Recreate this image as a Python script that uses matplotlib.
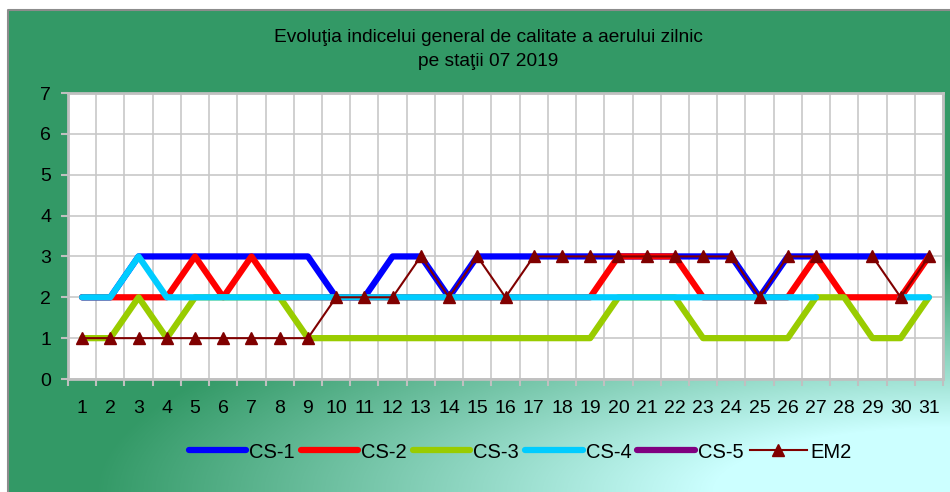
import numpy as np
import matplotlib
matplotlib.use("Agg")
from matplotlib import pyplot as plt

plt.rcParams['font.family'] = ['Liberation Sans', 'DejaVu Sans']

nan = np.nan
days = list(range(1, 32))
cs1 = [2, 2, 3, 3, 3, 3, 3, 3, 3, 2, 2, 3, 3, 2, 3, 3, 3, 3, 3, 3, 3, 3, 3, 3, 2, 3, 3, 3, 3, 3, 3]
cs2 = [2, 2, 2, 2, 3, 2, 3, 2, 2, 2, 2, 2, 2, 2, 2, 2, 2, 2, 2, 3, 3, 3, 2, 2, 2, 2, 3, 2, 2, 2, 3]
cs3 = [1, 1, 2, 1, 2, 2, 2, 2, 1, 1, 1, 1, 1, 1, 1, 1, 1, 1, 1, 2, 2, 2, 1, 1, 1, 1, 2, 2, 1, 1, 2]
cs4 = [2, 2, 3, 2, 2, 2, 2, 2, 2, 2, 2, 2, 2, 2, 2, 2, 2, 2, 2, 2, 2, 2, 2, 2, 2, 2, 2, nan, nan, 2, 2]
cs5 = [nan] * 31
em2 = [1, 1, 1, 1, 1, 1, 1, 1, 1, 2, 2, 2, 3, 2, 3, 2, 3, 3, 3, 3, 3, 3, 3, 3, 2, 3, 3, nan, 3, 2, 3]

names = ['CS-1', 'CS-2', 'CS-3', 'CS-4', 'CS-5']
colors = ['#0000FF', '#FF0000', '#99CC00', '#00CCFF', '#800080']
em2_color = '#800000'

W, H = 950, 492
fig = plt.figure(figsize=(W / 100, H / 100), dpi=100)
fig.patch.set_facecolor('white')

# gradient background of the chart area
bg = fig.add_axes([0, 0, 1, 1])
bg.set_xlim(0, W)
bg.set_ylim(H, 0)
bg.axis('off')
X, Y = np.meshgrid(np.arange(W) + 0.5, np.arange(H) + 0.5)
u, v = X / W, Y / H
f = np.sqrt((1.0 * (1 - u)) ** 2 + (1.9 * (1 - v)) ** 2)
t = np.clip((f - 0.25) / 0.65, 0, 1)
green = np.array([0x33, 0x99, 0x66]) / 255
light = np.array([0xCC, 0xFF, 0xFF]) / 255
img = light[None, None, :] * (1 - t[..., None]) + green[None, None, :] * t[..., None]
img[Y < 10] = 1
img[X < 8] = 1
bg.imshow(img, extent=(0, W, H, 0), aspect='auto', interpolation='bilinear')
bg.plot([8, 8, W], [H, 10, 10], color='#8c8c8c', lw=1.5)

# plot area
ax = fig.add_axes([68 / W, 1 - 379 / H, 875 / W, 286 / H])
ax.set_facecolor('white')
ax.set_xlim(0.5, 31.5)
ax.set_ylim(0, 7)
ax.set_xticks(days)
ax.set_xticks(np.arange(0.5, 32, 1), minor=True)
ax.set_yticks(range(8))
ax.tick_params(axis='x', which='major', length=0, pad=15, labelsize=14)
ax.tick_params(axis='x', which='minor', length=5, width=1.5, color='#c0c0c0')
ax.tick_params(axis='y', length=5, width=1.5, color='#c0c0c0', pad=7, labelsize=14)
ax.grid(True, axis='x', which='minor', color='#c8c8c8', lw=1.2)
ax.grid(True, axis='y', which='major', color='#c8c8c8', lw=1.2)
ax.set_axisbelow(True)
for s in ax.spines.values():
    s.set_color('#c0c0c0')
    s.set_linewidth(2)

series = [cs1, cs2, cs3, cs4, cs5]
handles = []
for vals, name, c in zip(series, names, colors):
    ln, = ax.plot(days, vals, color=c, lw=4.5, solid_capstyle='round',
                  solid_joinstyle='round', label=name)
    handles.append(ln)
ln, = ax.plot(days, em2, color=em2_color, lw=1.5, marker='^', markersize=8,
              label='EM2')
handles.append(ln)

fig.text(488 / W, 1 - 37 / H, 'Evoluţia indicelui general de calitate a aerului zilnic',
         ha='center', va='center', fontsize=13.8)
fig.text(488 / W, 1 - 62 / H, 'pe staţii 07 2019', ha='center', va='center', fontsize=13.8)

fig.legend(handles=handles, loc='center', bbox_to_anchor=(520 / W, 1 - 452 / H),
           ncol=6, frameon=False, fontsize=14.5, handlelength=2.85,
           handletextpad=0.15, columnspacing=0.3)

fig.savefig('out.png', dpi=100)
